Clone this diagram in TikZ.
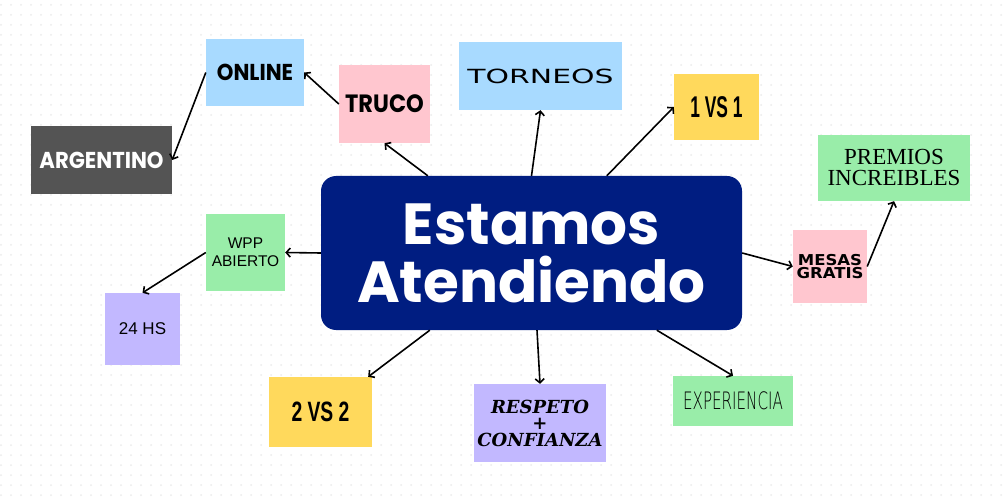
\documentclass[tikz,border=0pt]{standalone}
\usepackage{fontspec}
\setmainfont{Poppins}
\newfontfamily\libsans{Liberation Sans}
\newfontfamily\libserif{Liberation Serif}
\newfontfamily\djserif{DejaVu Serif}
\newfontfamily\djsans{DejaVu Sans}
\newfontfamily\thinfont{DejaVu Sans ExtraLight}
\usetikzlibrary{arrows.meta}
\definecolor{cblue}{HTML}{A8DAFF}
\definecolor{cpink}{HTML}{FFC6CF}
\definecolor{cgray}{HTML}{545454}
\definecolor{cyellow}{HTML}{FFD95C}
\definecolor{cgreen}{HTML}{99EDA9}
\definecolor{cpurple}{HTML}{C2B8FF}
\definecolor{cnavy}{HTML}{001D81}
\definecolor{cdot}{HTML}{EBEBEB}
\tikzset{
  box/.style={rectangle, inner sep=0pt, align=center, text=black},
  arr/.style={line width=1.6pt, draw=black, -{Straight Barb[length=4pt,width=9pt]}},
}
\begin{document}
\begin{tikzpicture}[x=1pt,y=-1pt]
\useasboundingbox[fill=white] (0,0) rectangle (1008,502);
\foreach \gx in {1,11,...,1001}{
  \foreach \gy in {5,15,...,495}{
    \fill[cdot] (\gx,\gy) circle (1);
  }
}
% main
\node[box, fill=cnavy, rounded corners=15pt, minimum width=421pt, minimum height=154pt, text=white,
      font=\fontsize{58}{58}\selectfont\bfseries] (main) at (531.5,253) {Estamos\\Atendiendo};
% top left
\node[box, fill=cblue, minimum width=98pt, minimum height=67pt,
      font=\fontsize{23}{23}\selectfont\bfseries] (online) at (255,72.5) {\scalebox{0.92}[1]{ONLINE}};
\node[box, fill=cpink, minimum width=91pt, minimum height=78pt,
      font=\fontsize{25}{25}\selectfont\bfseries] (truco) at (384.5,104) {\scalebox{0.9}[1]{TRUCO}};
\node[box, fill=cgray, minimum width=141pt, minimum height=68pt, text=white,
      font=\fontsize{23}{23}\selectfont\bfseries] (argentino) at (101.5,160) {\scalebox{0.92}[1]{ARGENTINO}};
% top
\node[box, fill=cblue, minimum width=163pt, minimum height=68pt,
      font=\fontsize{19.5}{19.5}\selectfont\djsans] (torneos) at (540.5,76) {\scalebox{1.53}[1]{TORNEOS}};
\node[box, fill=cyellow, minimum width=85pt, minimum height=66pt,
      font=\fontsize{30}{30}\selectfont\libsans\bfseries] (uno) at (716.5,107) {\scalebox{0.58}[1]{1 VS 1}};
\node[box, fill=cgreen, minimum width=152pt, minimum height=66pt,
      font=\fontsize{23}{21}\selectfont\libserif] (premios) at (894,168) {PREMIOS\\INCREIBLES};
% left
\node[box, fill=cgreen, minimum width=79pt, minimum height=77pt,
      font=\fontsize{15.5}{18}\selectfont\libsans] (wpp) at (245.5,252.5) {WPP\\ABIERTO};
\node[box, fill=cpurple, minimum width=75pt, minimum height=72pt,
      font=\fontsize{17}{17}\selectfont\libsans] (hs) at (142.5,329) {24 HS};
% bottom
\node[box, fill=cyellow, minimum width=103pt, minimum height=70pt,
      font=\fontsize{28}{28}\selectfont\libsans\bfseries] (dos) at (320.5,412) {\scalebox{0.69}[1]{2 VS 2}};
\node[box, fill=cpurple, minimum width=132pt, minimum height=78pt,
      font=\fontsize{18}{16.5}\selectfont\djserif\bfseries\itshape] (respeto) at (540,423) {RESPETO\\+\\CONFIANZA};
\node[box, fill=cgreen, minimum width=120pt, minimum height=50pt,
      font=\fontsize{24}{24}\selectfont\thinfont] (exp) at (733,401) {\scalebox{0.63}[1]{EXPERIENCIA}};
% right
\node[box, fill=cpink, minimum width=74pt, minimum height=73pt,
      font=\fontsize{15}{13}\selectfont\djsans\bfseries] (mesas) at (830,266.5) {\scalebox{1.1}[1]{MESAS}\\\scalebox{1.1}[1]{GRATIS}};
% connectors
\draw[arr] ([xshift=107pt]main.north west) -- (truco.south);
\draw[arr] (truco.west) -- (online.east);
\draw[arr] (online.west) -- (argentino.east);
\draw[arr] (main.north) -- (torneos.south);
\draw[arr] ([xshift=286pt]main.north west) -- (uno.west);
\draw[arr] (main.east) -- (mesas.west);
\draw[arr] (mesas.east) -- (premios.south);
\draw[arr] (main.west) -- (wpp.east);
\draw[arr] (wpp.west) -- (hs.north);
\draw[arr] ([xshift=109pt]main.south west) -- ([xshift=-4pt]dos.north east);
\draw[arr] ([xshift=5.5pt]main.south) -- (respeto.north);
\draw[arr] ([xshift=336pt]main.south west) -- (exp.north);
\end{tikzpicture}
\end{document}
